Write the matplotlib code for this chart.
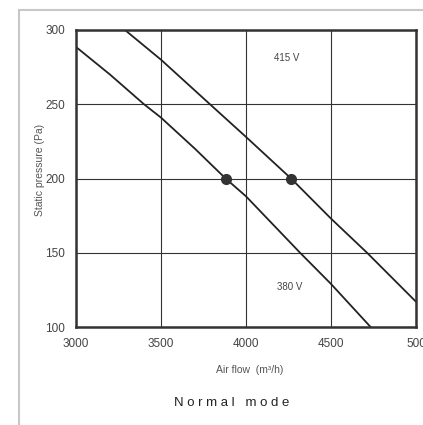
import numpy as np
import matplotlib.pyplot as plt
from matplotlib.lines import Line2D

plt.rcParams['font.family'] = ['Liberation Sans Narrow', 'Liberation Sans', 'DejaVu Sans']

# Curve points (air flow m3/h, static pressure Pa)
flow_380 = [3000, 3200, 3400, 3500, 3700, 3880, 4000, 4318, 4500, 4733]
pres_380 = [288.6, 270, 250, 241, 220, 200, 188, 150, 129, 100]

flow_415 = [3288, 3500, 3788, 4000, 4265, 4500, 4712, 5000]
pres_415 = [300, 280, 250, 228, 200, 173, 150, 117]

op_flow = [3880, 4265]
op_pres = [200, 200]

x_ticks = [3000, 3500, 4000, 4500, 5000]
x_labels = ['3000', '3500', '4000', '4500', '500']
y_ticks = [100, 150, 200, 250, 300]

W, H = 423, 425
fig = plt.figure(figsize=(W / 100, H / 100), dpi=100)
ax = fig.add_axes([76 / W, 1 - 327 / H, 340 / W, 297 / H])

ax.plot(flow_380, pres_380, color='#222222', lw=1.3)
ax.plot(flow_415, pres_415, color='#222222', lw=1.3)
ax.plot(op_flow, op_pres, 'o', color='#333333', ms=7)

ax.set_xlim(3000, 5000)
ax.set_ylim(100, 300)
ax.set_xticks(x_ticks)
ax.set_xticklabels(x_labels)
ax.set_yticks(y_ticks)
ax.grid(True, color='#333333', lw=0.8)
ax.tick_params(length=0, labelsize=8.5, colors='#444444', pad=8)
for s in ax.spines.values():
    s.set_linewidth(1.8)
    s.set_color('#333333')

ax.text(4241, 281, '415 V', fontsize=7, color='#444444', ha='center', va='center')
ax.text(4259, 127, '380 V', fontsize=7, color='#444444', ha='center', va='center')

fig.text(40 / W, 1 - 170 / H, 'Static pressure (Pa)', fontsize=7.5, color='#555555',
         rotation=90, ha='center', va='center')
fig.text(250 / W, 1 - 370 / H, 'Air flow  (m\u00b3/h)', fontsize=7.5, color='#555555',
         ha='center', va='center')
fig.text(232 / W, 1 - 403 / H, 'N o r m a l   m o d e', fontsize=9.5, color='#222222',
         ha='center', va='center')

# light gray frame around the panel
fig.add_artist(Line2D([19 / W, 1], [1 - 10 / H, 1 - 10 / H], color='#c8c8c8', lw=1.5))
fig.add_artist(Line2D([19 / W, 19 / W], [1 - 10 / H, 0], color='#c8c8c8', lw=1.5))

fig.savefig('out.png', dpi=100)
